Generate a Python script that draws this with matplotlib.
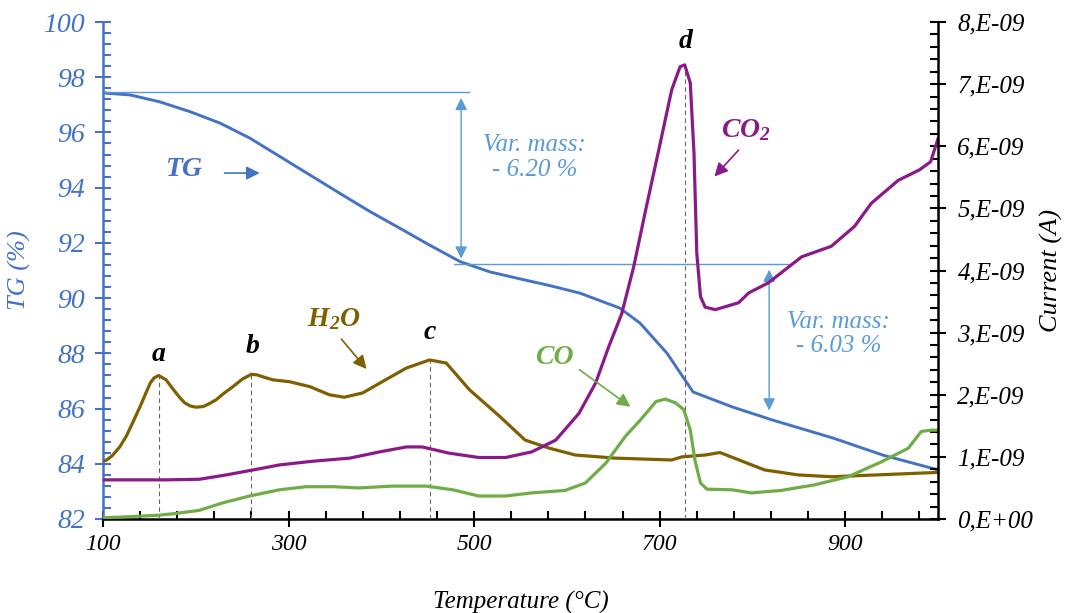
import matplotlib
matplotlib.use("Agg")
import matplotlib.pyplot as plt
import numpy as np
from matplotlib.ticker import MultipleLocator, FixedLocator, FuncFormatter

plt.rcParams['font.family'] = ['Liberation Serif', 'DejaVu Serif']
plt.rcParams['font.style'] = 'italic'
plt.rcParams['mathtext.fontset'] = 'custom'
plt.rcParams['mathtext.it'] = 'Liberation Serif:italic:bold'
plt.rcParams['mathtext.rm'] = 'Liberation Serif:italic:bold'

# TG curve (%)
tg_T = [100, 104, 129, 161, 194, 226, 258, 291, 323, 355, 388, 420, 452, 485,
        517, 549, 582, 614, 657, 679, 708, 736, 779, 822, 887, 941, 1000]
tg_v = [97.45, 97.42, 97.36, 97.11, 96.75, 96.34, 95.8, 95.12, 94.46, 93.8, 93.13,
        92.53, 91.92, 91.32, 90.95, 90.7, 90.45, 90.18, 89.64, 89.09, 88.0, 86.6,
        86.05, 85.58, 84.93, 84.31, 83.78]

# H2O current (x1e-9 A)
h2o_T = [100, 104, 110, 118, 125, 132, 140, 146, 151, 155, 160, 168, 175, 183, 188,
         194, 200, 208, 215, 222, 230, 240, 250, 260, 266, 272, 283, 301, 323, 344,
         360, 380, 401, 427, 452, 470, 495, 527, 555, 581, 609, 652, 713, 724, 749,
         765, 777, 813, 849, 885, 1000]
h2o_v = [0.93, 0.95, 1.02, 1.16, 1.33, 1.55, 1.81, 2.02, 2.19, 2.27, 2.31, 2.24, 2.1,
         1.95, 1.87, 1.82, 1.80, 1.81, 1.86, 1.92, 2.02, 2.13, 2.25, 2.33, 2.32, 2.29,
         2.24, 2.21, 2.13, 2.0, 1.96, 2.03, 2.21, 2.43, 2.56, 2.51, 2.08, 1.66, 1.27,
         1.14, 1.03, 0.98, 0.95, 1.0, 1.03, 1.07, 1.0, 0.79, 0.71, 0.68, 0.75]

# CO2 current (x1e-9 A)
co2_T = [100, 115, 168, 204, 233, 262, 290, 326, 366, 398, 427, 444, 473, 505, 534,
         562, 588, 613, 631, 645, 659, 672, 685, 699, 713, 722, 727, 733, 737, 740,
         744, 749, 760, 785, 796, 817, 853, 885, 910, 928, 957, 980, 992, 1000]
co2_v = [0.63, 0.63, 0.63, 0.64, 0.71, 0.79, 0.87, 0.93, 0.98, 1.08, 1.16, 1.16, 1.06,
         0.99, 0.99, 1.08, 1.27, 1.7, 2.19, 2.77, 3.3, 4.06, 4.98, 5.94, 6.91, 7.28,
         7.31, 7.02, 5.89, 4.28, 3.58, 3.41, 3.37, 3.48, 3.64, 3.8, 4.22, 4.39, 4.71,
         5.08, 5.45, 5.62, 5.75, 6.12]

# CO current (x1e-9 A)
co_T = [100, 118, 159, 179, 204, 229, 258, 290, 319, 348, 376, 412, 448, 477, 505,
        534, 562, 598, 620, 642, 663, 679, 696, 706, 717, 726, 733, 738, 744, 751,
        778, 799, 831, 867, 903, 939, 968, 982, 993, 1000]
co_v = [0.02, 0.03, 0.06, 0.09, 0.14, 0.26, 0.37, 0.47, 0.52, 0.52, 0.5, 0.53, 0.53,
        0.47, 0.37, 0.37, 0.42, 0.46, 0.58, 0.9, 1.33, 1.59, 1.89, 1.93, 1.87, 1.76,
        1.43, 0.95, 0.58, 0.48, 0.47, 0.42, 0.46, 0.55, 0.68, 0.92, 1.14, 1.41, 1.43, 1.43]

peak_T = {'a': 160, 'b': 260, 'c': 452, 'd': 727}

blue = '#4472C4'
light = '#5B9BD5'
purple = '#8B1A89'
brown = '#7F6000'
green = '#70AD47'

fig = plt.figure(figsize=(10.71, 6.13), dpi=100)
ax = fig.add_axes([103 / 1071, 1 - 519 / 613, (938 - 103) / 1071, (519 - 22) / 613])
ax2 = ax.twinx()

ax.plot(tg_T, tg_v, color=blue, lw=2.1)
ax.set_xlim(100, 1000)
ax.set_ylim(82, 100)

e9 = 1e-9
ax2.plot(h2o_T, np.array(h2o_v) * e9, color=brown, lw=2.3)
ax2.plot(co2_T, np.array(co2_v) * e9, color=purple, lw=2.3)
ax2.plot(co_T, np.array(co_v) * e9, color=green, lw=2.3)
ax2.set_ylim(0, 8e-9)

# dashed peak markers
for k, t in peak_T.items():
    src_T, src_v = (co2_T, co2_v) if k == 'd' else (h2o_T, h2o_v)
    top = np.interp(t, src_T, src_v) * e9
    ax2.plot([t, t], [0, top], color='#666666', ls=(0, (4, 3)), lw=0.8, zorder=0)

lab_pos = {'a': (160, 2.64), 'b': (261, 2.77), 'c': (452, 3.0), 'd': (728, 7.68)}
for k, (x, y) in lab_pos.items():
    ax2.text(x, y * e9, k, ha='center', va='center', fontsize=20,
             fontweight='bold', color='black')

# mass variation annotations
ax.plot([100, 495], [97.45, 97.45], color=light, lw=1)
ax.plot([478, 839], [91.23, 91.23], color=light, lw=1)
ax.annotate('', xy=(486, 97.35), xytext=(486, 91.33),
            arrowprops=dict(arrowstyle='<|-|>', color=light, lw=1, mutation_scale=18))
ax.annotate('', xy=(818, 91.13), xytext=(818, 85.83),
            arrowprops=dict(arrowstyle='<|-|>', color=light, lw=1, mutation_scale=18))
ax.text(565, 95.1, 'Var. mass:\n- 6.20 %', ha='center', va='center', fontsize=18,
        color=light, linespacing=1.15)
ax.text(893, 88.7, 'Var. mass:\n- 6.03 %', ha='center', va='center', fontsize=18,
        color=light, linespacing=1.15)

# series labels
ax.text(188, 94.64, 'TG', ha='center', va='center', fontsize=20, fontweight='bold', color=blue)
ax.annotate('', xy=(272, 94.53), xytext=(228, 94.53),
            arrowprops=dict(arrowstyle='-|>', color=blue, lw=1.2, mutation_scale=20))
ax2.text(349, 3.22 * e9, r'H$_2$O', ha='center', va='center', fontsize=20,
         fontweight='bold', color=brown)
ax2.annotate('', xy=(386, 2.38 * e9), xytext=(355, 2.93 * e9),
             arrowprops=dict(arrowstyle='-|>', color=brown, lw=1.2, mutation_scale=20))
ax2.text(793, 6.26 * e9, r'CO$_2$', ha='center', va='center', fontsize=20,
         fontweight='bold', color=purple)
ax2.annotate('', xy=(757, 5.48 * e9), xytext=(787, 5.97 * e9),
             arrowprops=dict(arrowstyle='-|>', color=purple, lw=1.2, mutation_scale=20))
ax2.text(586, 2.6 * e9, 'CO', ha='center', va='center', fontsize=20,
         fontweight='bold', color=green)
ax2.annotate('', xy=(671, 1.78 * e9), xytext=(611, 2.43 * e9),
             arrowprops=dict(arrowstyle='-|>', color=green, lw=1.2, mutation_scale=20))

# ticks and spines
ax.xaxis.set_major_locator(FixedLocator([100, 300, 500, 700, 900]))
ax.xaxis.set_minor_locator(FixedLocator(np.arange(100, 1001, 40)))
ax.yaxis.set_major_locator(MultipleLocator(2))
ax.yaxis.set_minor_locator(MultipleLocator(0.4))
ax2.yaxis.set_major_locator(MultipleLocator(1e-9))
ax2.yaxis.set_minor_locator(MultipleLocator(0.2e-9))
ax2.yaxis.set_major_formatter(FuncFormatter(
    lambda v, p: '0,E+00' if abs(v) < 1e-12 else f'{v / 1e-9:.0f},E-09'))

ax.tick_params(axis='x', which='major', direction='inout', length=12, width=1.5,
               labelsize=17, pad=5, colors='black')
ax.tick_params(axis='x', which='minor', direction='in', length=6, width=1.5)
ax.tick_params(axis='y', which='major', direction='inout', length=12, width=1.5,
               labelsize=20, colors=blue, pad=7)
ax.tick_params(axis='y', which='minor', direction='in', length=6, width=1.5, colors=blue)
ax2.tick_params(axis='y', which='major', direction='inout', length=12, width=1.5,
                labelsize=18, pad=8, colors='black')
ax2.tick_params(axis='y', which='minor', direction='in', length=6, width=1.5)

ax.spines['top'].set_visible(False)
ax2.spines['top'].set_visible(False)
ax.spines['right'].set_visible(False)
ax2.spines['left'].set_visible(False)
ax2.spines['bottom'].set_visible(False)
ax.spines['left'].set_color(blue)
ax.spines['left'].set_linewidth(1.8)
ax.spines['bottom'].set_linewidth(1.8)
ax2.spines['right'].set_linewidth(1.8)

ax.set_xlabel('Temperature (°C)', fontsize=18, labelpad=26)
ax.set_ylabel('TG (%)', fontsize=19, color=blue, va='center')
ax.yaxis.set_label_coords(-0.1, 0.5)
ax2.set_ylabel('Current (A)', fontsize=19, va='center')
ax2.yaxis.set_label_coords(1.136, 0.5)

fig.savefig('out.png', dpi=100)
